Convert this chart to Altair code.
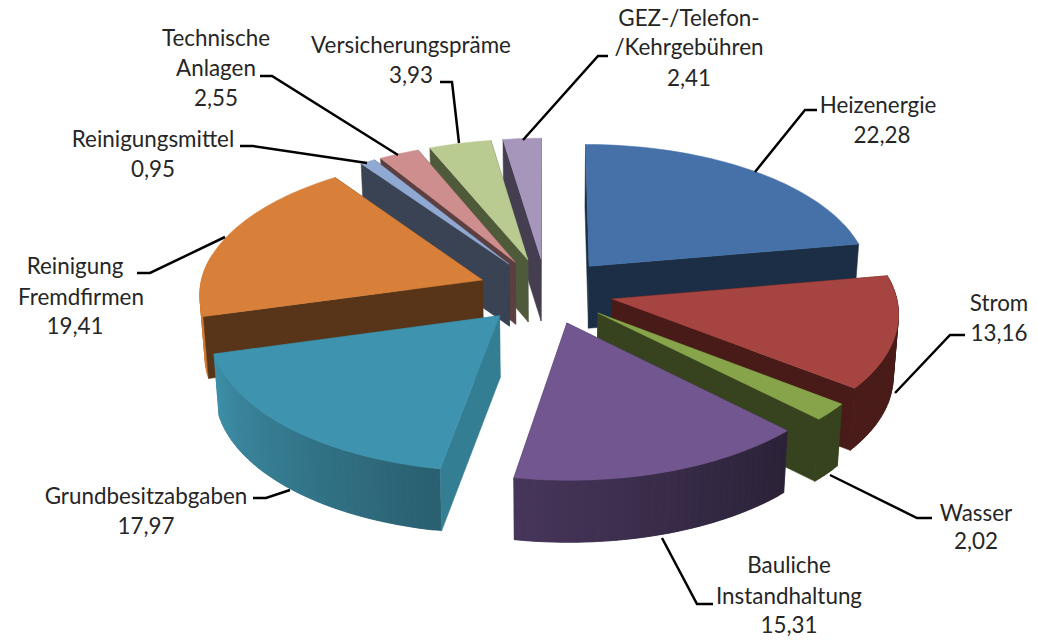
import math
import altair as alt
import pandas as pd

# ---------- chart values ----------
categories = ["Heizenergie", "Strom", "Wasser", "Bauliche Instandhaltung", "Grundbesitzabgaben",
              "Reinigung Fremdfirmen", "Reinigungsmittel", "Technische Anlagen", "Versicherungspräme",
              "GEZ-/Telefon-/Kehrgebühren"]
values = [22.28, 13.16, 2.02, 15.31, 17.97, 19.41, 0.95, 2.55, 3.93, 2.41]
top_colors = ["#4571A8", "#A64441", "#87A44A", "#72568F", "#3E94AF", "#D8803A", "#8FA9D3", "#CD8E8D", "#B9CB91", "#A796BC"]
cut_colors = ["#1B2E45", "#481B18", "#37431E", "#453558", "#347E93", "#583418", "#3A4354", "#5C3F40", "#4F5A3A", "#443E50"]
rim_start = ["#1B2E45", "#4A1C19", "#37431E", "#2B2238", "#2A6070", "#D07A34", "#3A4354", "#5C3F40", "#4F5A3A", "#443E50"]
rim_end = ["#1B2E45", "#4A1C19", "#37431E", "#46365A", "#3E8FA8", "#D8803A", "#3A4354", "#5C3F40", "#4F5A3A", "#443E50"]
draw_order = [0, 1, 2, 3, 9, 8, 7, 6, 5, 4]
front_face = ["end", "end", "end", "", "start", "start", "start", "start", "start", "start"]

# label text (lines), centre x, middle y
label_lines = [
    ("GEZ-/Telefon-", 689, 19), ("/Kehrgebühren", 689, 48), ("2,41", 689, 79),
    ("Heizenergie", 878, 106), ("22,28", 882, 136),
    ("Strom", 999, 304), ("13,16", 999, 334),
    ("Wasser", 976, 514), ("2,02", 976, 542),
    ("Bauliche", 789, 566), ("Instandhaltung", 789, 597), ("15,31", 789, 626),
    ("Grundbesitzabgaben", 146, 497), ("17,97", 146, 527),
    ("Reinigung", 75, 267), ("Fremdfirmen", 81, 298), ("19,41", 75, 327),
    ("Reinigungsmittel", 153, 140), ("0,95", 153, 170),
    ("Technische", 216, 39), ("Anlagen", 216, 69), ("2,55", 216, 99),
    ("Versicherungspräme", 411, 46), ("3,93", 411, 76),
]
leaders = {
    "Heizenergie": [(817, 110), (805, 110), (755, 172)],
    "Strom": [(965, 335), (950, 335), (895, 393)],
    "Wasser": [(932, 518), (917, 518), (830, 475)],
    "Bauliche": [(713, 604), (697, 604), (662, 538)],
    "Grund": [(253, 498), (266, 498), (290, 490)],
    "Reinigung": [(137, 273), (150, 273), (225, 237)],
    "Mittel": [(240, 146), (253, 146), (367, 163)],
    "Technische": [(260, 76), (272, 76), (398, 155)],
    "Vers": [(440, 82), (452, 82), (459, 143)],
    "GEZ": [(608, 56), (598, 56), (523, 140)],
}

# ---------- perspective model of the pie ----------
CX, CY = 546, 291
A, B = 283, 137
K = 0.09
EXPLODE = 0.24
DEPTH = 62
SHRINK = 0.985
OFF = 8  # page margin


def project(X, Y):
    s = 1 / (1 + K * Y)
    return CX + A * X * s, CY - B * Y * s


def bottom(p):
    return CX + (p[0] - CX) * SHRINK, p[1] + DEPTH


def hexmix(c1, c2, t):
    a = [int(c1[i:i + 2], 16) for i in (1, 3, 5)]
    b = [int(c2[i:i + 2], 16) for i in (1, 3, 5)]
    return "#%02x%02x%02x" % tuple(round(u + (v - u) * t) for u, v in zip(a, b))


def feature(points, fill):
    pts = [[x - OFF, y - OFF] for x, y in points]
    pts.append(pts[0])
    return {"type": "Feature", "properties": {"fill": fill},
            "geometry": {"type": "Polygon", "coordinates": [pts]}}


total = sum(values)
starts = []
acc = 0.0
for v in values:
    starts.append(acc)
    acc += v

features = []
for i in draw_order:
    a0 = 2 * math.pi * starts[i] / total
    a1 = 2 * math.pi * (starts[i] + values[i]) / total
    mid = (a0 + a1) / 2
    X0, Y0 = EXPLODE * math.sin(mid), EXPLODE * math.cos(mid)
    apex = project(X0, Y0)
    n = max(4, int((a1 - a0) * 40))
    angles = [a0 + (a1 - a0) * j / n for j in range(n + 1)]
    rim = [project(X0 + math.sin(a), Y0 + math.cos(a)) for a in angles]
    faces = {"start": feature([apex, rim[0], bottom(rim[0]), bottom(apex)], cut_colors[i]),
             "end": feature([apex, rim[-1], bottom(rim[-1]), bottom(apex)], cut_colors[i])}
    # The face that looks at the viewer goes over the rim; the other one goes under it.
    for name, face in faces.items():
        if name != front_face[i]:
            features.append(face)
    # Rim strips overlap their neighbour so no seam shows; back-facing ones stay out.
    for j in range(n):
        if math.cos(angles[j]) > 0.15 and math.cos(angles[j + 1]) > 0.15:
            continue
        t = j / max(1, n - 1)
        e = min(n, j + 2)
        strip = rim[j:e + 1]
        features.append(feature(strip + [bottom(p) for p in reversed(strip)],
                                hexmix(rim_start[i], rim_end[i], t)))
    if front_face[i]:
        features.append(faces[front_face[i]])
    features.append(feature([apex] + rim, top_colors[i]))

W, H = 1021, 632
shapes = alt.Chart(alt.Data(values=features)).mark_geoshape(strokeWidth=0.5).encode(
    fill=alt.Fill("properties.fill:N", scale=None),
    stroke=alt.Stroke("properties.fill:N", scale=None),
).project(type="identity", scale=1, translate=[0, 0])

leader_rows = []
for name, pts in leaders.items():
    for k, (x, y) in enumerate(pts):
        leader_rows.append({"name": name, "k": k, "x": x - OFF, "y": y - OFF})
leader_chart = alt.Chart(pd.DataFrame(leader_rows)).mark_line(color="#000000", strokeWidth=2.5).encode(
    x=alt.X("x:Q", scale=None, axis=None),
    y=alt.Y("y:Q", scale=None, axis=None),
    detail="name:N",
    order="k:Q",
)

label_df = pd.DataFrame([{"t": t, "x": x - OFF, "y": y - OFF} for t, x, y in label_lines])
labels = alt.Chart(label_df).mark_text(font="Lato", fontSize=22.4, color="#262626", align="center", baseline="middle").encode(
    x=alt.X("x:Q", scale=None, axis=None),
    y=alt.Y("y:Q", scale=None, axis=None),
    text="t:N",
)

chart = alt.layer(shapes, leader_chart, labels).properties(
    width=W, height=H, background="#FFFFFF", padding=0, autosize=alt.AutoSizeParams(type="none")
).configure_view(stroke=None)

chart.save("out.html", embed_options={"renderer": "svg", "actions": False})
